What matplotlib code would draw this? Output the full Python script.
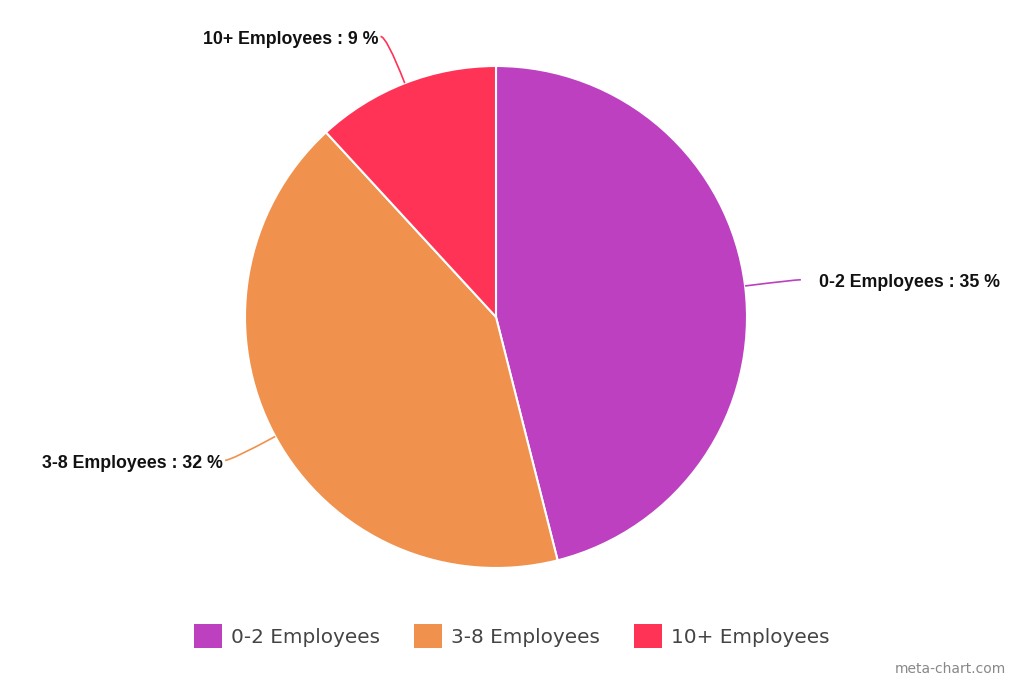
import numpy as np
import matplotlib
matplotlib.use("Agg")
import matplotlib.pyplot as plt
from matplotlib.path import Path
from matplotlib.patches import PathPatch

categories = ["0-2 Employees", "3-8 Employees", "10+ Employees"]
values = [35, 32, 9]
colors = ["#BC40C0", "#F0914D", "#FF3355"]

W, H = 1024, 683
fig = plt.figure(figsize=(W / 100, H / 100), dpi=100)
ax = fig.add_axes([0, 0, 1, 1])
ax.set_xlim(0, W)
ax.set_ylim(0, H)
ax.axis("off")

cx, cy, R = 496, 366, 251
wedges, _ = ax.pie(values, center=(cx, cy), radius=R, startangle=90,
                   counterclock=False, colors=colors,
                   wedgeprops=dict(edgecolor="white", linewidth=1.5))
ax.set_xlim(0, W)
ax.set_ylim(0, H)

# leader lines + labels
for w, cat, v, c in zip(wedges, categories, values, colors):
    ang = np.deg2rad((w.theta1 + w.theta2) / 2)
    d = np.array([np.cos(ang), np.sin(ang)])
    p0 = np.array([cx, cy]) + R * d
    p1 = np.array([cx, cy]) + 1.2 * R * d
    side = 1 if d[0] > 0 else -1
    p2 = p1 + np.array([side * 6, 0])
    path = Path([p0, p1, p2], [Path.MOVETO, Path.CURVE3, Path.CURVE3])
    ax.add_patch(PathPatch(path, fill=False, edgecolor=c, lw=1.2))
    gap = 18 if side > 0 else 2
    ax.text(p2[0] + side * gap, p2[1] - 3, f"{cat} : {v} %",
            ha="left" if side > 0 else "right", va="center",
            fontsize=12.8, fontweight="bold", family="Liberation Sans",
            color="#111111")

leg = ax.legend(wedges, categories, loc="center", bbox_to_anchor=(512 / W, 47 / H),
                bbox_transform=fig.transFigure, ncol=3, frameon=False,
                fontsize=14.4, handlelength=1.4, handleheight=1.4,
                handletextpad=0.45, columnspacing=1.7, labelcolor="#444444")
for h in leg.legend_handles:
    h.set_edgecolor("none")

fig.text(1006 / W, 1 - 669 / H, "meta-chart.com", ha="right", va="center",
         fontsize=10, color="#888888")

fig.savefig("out.png", dpi=100, facecolor="white")
